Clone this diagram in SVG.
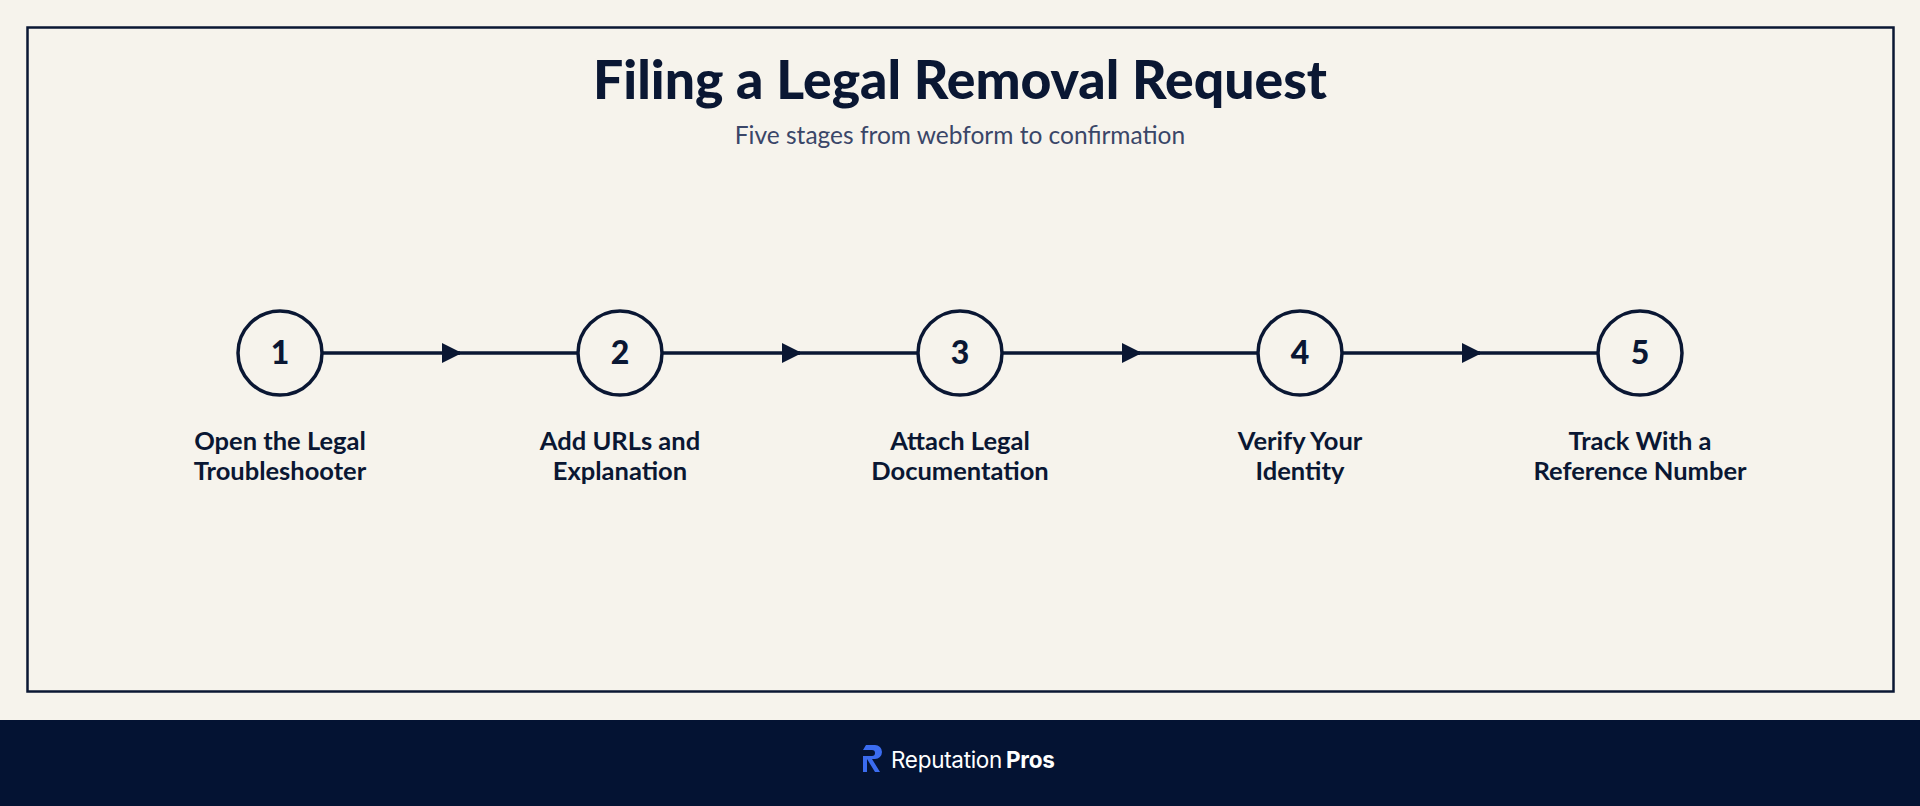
<svg xmlns="http://www.w3.org/2000/svg" width="1920" height="806" viewBox="0 0 1920 806">
<style>
.node circle{fill:none;stroke:#0a1733;stroke-width:3.5}
.num{font-family:"Lato","Liberation Sans",sans-serif;font-weight:900;font-size:32px;fill:#0a1733;text-anchor:middle}
.lbl{font-family:"Lato","Liberation Sans",sans-serif;font-weight:700;font-size:25.5px;fill:#0a1733;text-anchor:middle}
.conn line{stroke:#0a1733;stroke-width:3.5}
</style>
<defs>
<marker id="ah" markerWidth="20" markerHeight="20" refX="18" refY="10" markerUnits="userSpaceOnUse" orient="auto"><path d="M0,0 L20,10 L0,20 Z" fill="#0a1733"/></marker>
</defs>
<rect width="1920" height="806" fill="#f6f3ec"/>
<rect x="27.5" y="27.5" width="1866" height="664" fill="none" stroke="#0a1733" stroke-width="2.5"/>
<text x="960" y="99" font-family="Lato,'Liberation Sans',sans-serif" font-weight="900" font-size="53.5" fill="#0a1733" text-anchor="middle">Filing a Legal Removal Request</text>
<text x="960" y="144" font-family="Lato,'Liberation Sans',sans-serif" font-size="24.5" fill="#3a4668" text-anchor="middle">Five stages from webform to confirmation</text>
<g class="conn">
<line x1="322" y1="353" x2="460" y2="353" marker-end="url(#ah)"/><line x1="450" y1="353" x2="578" y2="353"/>
<line x1="662" y1="353" x2="800" y2="353" marker-end="url(#ah)"/><line x1="790" y1="353" x2="918" y2="353"/>
<line x1="1002" y1="353" x2="1140" y2="353" marker-end="url(#ah)"/><line x1="1130" y1="353" x2="1258" y2="353"/>
<line x1="1342" y1="353" x2="1480" y2="353" marker-end="url(#ah)"/><line x1="1470" y1="353" x2="1598" y2="353"/>
</g>
<g id="n1" class="node"><circle cx="280" cy="353" r="42"/><text class="num" x="280" y="364">1</text><text class="lbl" x="280" y="450">Open the Legal</text><text class="lbl" x="280" y="480">Troubleshooter</text></g>
<g id="n2" class="node"><circle cx="620" cy="353" r="42"/><text class="num" x="620" y="364">2</text><text class="lbl" x="620" y="450">Add URLs and</text><text class="lbl" x="620" y="480">Explanation</text></g>
<g id="n3" class="node"><circle cx="960" cy="353" r="42"/><text class="num" x="960" y="364">3</text><text class="lbl" x="960" y="450">Attach Legal</text><text class="lbl" x="960" y="480">Documentation</text></g>
<g id="n4" class="node"><circle cx="1300" cy="353" r="42"/><text class="num" x="1300" y="364">4</text><text class="lbl" x="1300" y="450">Verify Your</text><text class="lbl" x="1300" y="480">Identity</text></g>
<g id="n5" class="node"><circle cx="1640" cy="353" r="42"/><text class="num" x="1640" y="364">5</text><text class="lbl" x="1640" y="450">Track With a</text><text class="lbl" x="1640" y="480">Reference Number</text></g>
<rect x="0" y="720" width="1920" height="86" fill="#041333"/>
<g id="logo">
<path d="M866,745 h9 a7,7 0 0 1 0,14 h-3 l8,13 h-5 l-8,-13 v13 h-4 v-16 h9 a3,3 0 0 0 0,-6 h-9 z" fill="#3b6cf0"/>
<text x="891" y="768" font-family="Inter,'Liberation Sans',sans-serif" font-size="22.5" letter-spacing="-0.3" fill="#ffffff">Reputation<tspan dx="4" font-weight="700">Pros</tspan></text>
</g>
</svg>
